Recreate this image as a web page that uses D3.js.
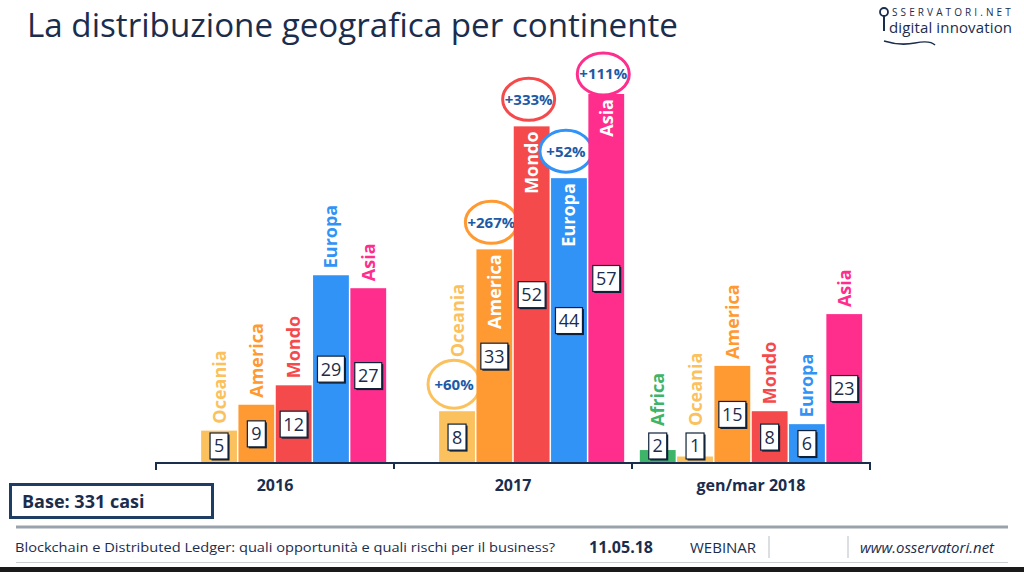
<!DOCTYPE html>
<html><head><meta charset="utf-8">
<script src="https://cdn.jsdelivr.net/npm/d3@7"></script>
<style>
html,body{margin:0;padding:0;background:#fff;}
svg{display:block;}
text{font-family:"Open Sans","Noto Sans",sans-serif;}
</style></head>
<body><svg id="c" width="1024" height="572"></svg>
<script>
// ---- data ----
const periods = ["2016", "2017", "gen/mar 2018"];
const continents = ["Africa", "Oceania", "America", "Mondo", "Europa", "Asia"];
const values2016 = [0, 5, 9, 12, 29, 27];
const values2017 = [0, 8, 33, 52, 44, 57];
const values2018 = [2, 1, 15, 8, 6, 23];
const growth2017 = ["", "+60%", "+267%", "+333%", "+52%", "+111%"];
const colors = ["#3db468", "#fbc15e", "#ff9a32", "#f54a4b", "#3193f6", "#ff2e8d"];
const titleText = "La distribuzione geografica per continente";
const baseText = "Base: 331 casi";
const footerText = "Blockchain e Distributed Ledger: quali opportunità e quali rischi per il business?";

const seriesByPeriod = [values2016, values2017, values2018];
const growthByPeriod = [null, growth2017, null];

const navy = "#1b2d4d";
const svg = d3.select("#c");

// title
svg.append("text").attr("x", 27).attr("y", 37).attr("font-size", 33)
  .attr("fill", navy).attr("textLength", 651).attr("lengthAdjust", "spacingAndGlyphs").text(titleText);

// logo
const logo = svg.append("g");
logo.append("circle").attr("cx", 884).attr("cy", 12).attr("r", 4).attr("fill", "none").attr("stroke", "#1b2d4d").attr("stroke-width", 1.8);
logo.append("line").attr("x1", 884).attr("x2", 884).attr("y1", 16).attr("y2", 31).attr("stroke", "#1b2d4d").attr("stroke-width", 2);
logo.append("text").attr("x", 892).attr("y", 16).attr("font-size", 10).attr("letter-spacing", 1.2)
  .attr("fill", "#1b2d4d").attr("font-family", "DejaVu Sans").attr("textLength", 120).text("SSERVATORI.NET");
logo.append("text").attr("x", 889).attr("y", 33).attr("font-size", 15)
  .attr("fill", "#1b2d4d").attr("font-family", "'Liberation Serif','DejaVu Serif',serif").attr("textLength", 123).text("digital innovation");
logo.append("path").attr("d", "M884,41 Q900,46 915,43 T935,45").attr("fill", "none").attr("stroke", "#1b2d4d").attr("stroke-width", 1.5);

// scales
const x0 = d3.scaleBand().domain(periods).range([156, 870]).padding(0);
const x1 = d3.scaleBand().domain(continents).range([0, x0.bandwidth()]).paddingInner(0.04).paddingOuter(0.21);
const y = d3.scaleLinear().domain([0, 57]).range([463, 94]);

const chart = svg.append("g");

periods.forEach((p, pi) => {
  const vals = seriesByPeriod[pi];
  const growth = growthByPeriod[pi];
  const g = chart.append("g").attr("transform", `translate(${x0(p)},0)`);
  continents.forEach((c, ci) => {
    const v = vals[ci];
    if (v <= 0) return;
    const bx = x1(c), bw = x1.bandwidth(), cx = bx + bw / 2;
    const top = y(v);
    g.append("rect").attr("x", bx).attr("y", top).attr("width", bw).attr("height", y(0) - top).attr("fill", colors[ci]);
    // value box
    const label = String(v);
    const boxW = label.length > 1 ? 27 : 18, boxH = 26;
    const cy = Math.min((top + y(0)) / 2, 446);
    const boxTop = cy - boxH / 2;
    g.append("rect").attr("x", cx - boxW / 2 + 1.5).attr("y", boxTop + 1.5).attr("width", boxW).attr("height", boxH).attr("fill", "#0f2138");
    g.append("rect").attr("x", cx - boxW / 2).attr("y", boxTop).attr("width", boxW).attr("height", boxH)
      .attr("fill", "#fff").attr("stroke", "#0f2138").attr("stroke-width", 1.2);
    g.append("text").attr("x", cx).attr("y", cy).attr("dy", "0.36em").attr("text-anchor", "middle")
      .attr("font-size", 18).attr("fill", navy).text(label);
    // growth ellipse
    let ellTop = null;
    if (growth && growth[ci]) {
      const ex = cx - 3, ey = Math.max(top - 27, 74);
      const rx = 26, ry = ci === 1 ? 24 : 21;
      ellTop = ey - ry;
      g.append("ellipse").attr("cx", ex).attr("cy", ey).attr("rx", rx).attr("ry", ry)
        .attr("fill", "#fff").attr("stroke", colors[ci]).attr("stroke-width", 3);
      g.append("text").attr("x", ex).attr("y", ey).attr("dy", "0.36em").attr("text-anchor", "middle")
        .attr("font-size", 15).attr("font-weight", 700).attr("fill", "#1d5aa5").text(growth[ci]);
    }
    // category label
    const inside = v > 30;
    const t = g.append("text").attr("font-size", 18).attr("font-weight", 700).attr("dy", "0.36em").text(c);
    if (inside) {
      t.attr("fill", "#fff").attr("text-anchor", "end")
        .attr("transform", `translate(${cx},${top + 5}) rotate(-90)`);
    } else {
      let start = Math.min(top, boxTop) - 7;
      if (ellTop !== null) start = ellTop - 3;
      t.attr("fill", colors[ci]).attr("text-anchor", "start")
        .attr("transform", `translate(${cx},${start}) rotate(-90)`);
    }
  });
});

// axis
const axis = svg.append("g").attr("transform", `translate(0,${y(0)})`)
  .call(d3.axisBottom(x0).tickSize(0).tickPadding(17));
axis.select(".domain").attr("stroke", navy).attr("stroke-width", 2).attr("d", "M156,7V0H870V7");
axis.selectAll(".tick text").attr("font-size", 16).attr("font-weight", 700).attr("fill", navy)
  .attr("font-family", "'Open Sans',sans-serif");
[x0("2017"), x0("gen/mar 2018")].forEach(xx => {
  axis.append("line").attr("x1", xx).attr("x2", xx).attr("y1", 0).attr("y2", 6).attr("stroke", navy).attr("stroke-width", 2);
});

// base box
svg.append("rect").attr("x", 10.5).attr("y", 484.5).attr("width", 202).attr("height", 33)
  .attr("fill", "#fff").attr("stroke", "#1e3d63").attr("stroke-width", 3);
svg.append("text").attr("x", 22).attr("y", 508).attr("font-size", 18).attr("font-weight", 700).attr("fill", navy).text(baseText);

// footer
svg.append("rect").attr("x", 16).attr("y", 525.5).attr("width", 992).attr("height", 3).attr("fill", "#9aa3ab");
svg.append("text").attr("x", 15).attr("y", 552).attr("font-size", 13).attr("fill", navy)
  .attr("textLength", 540).attr("lengthAdjust", "spacingAndGlyphs").text(footerText);
svg.append("text").attr("x", 589).attr("y", 553).attr("font-size", 16).attr("font-weight", 700).attr("fill", navy).text("11.05.18");
svg.append("text").attr("x", 690).attr("y", 553).attr("font-size", 15).attr("fill", navy).text("WEBINAR");
svg.append("line").attr("x1", 769).attr("x2", 769).attr("y1", 536).attr("y2", 558).attr("stroke", "#b9bfc5").attr("stroke-width", 1);
svg.append("line").attr("x1", 848).attr("x2", 848).attr("y1", 536).attr("y2", 558).attr("stroke", "#b9bfc5").attr("stroke-width", 1);
svg.append("text").attr("x", 860).attr("y", 553).attr("font-size", 15).attr("font-style", "italic").attr("fill", navy).text("www.osservatori.net");
svg.append("line").attr("x1", 16).attr("x2", 1008).attr("y1", 562.5).attr("y2", 562.5).attr("stroke", "#c9ced3").attr("stroke-width", 1);
svg.append("rect").attr("x", 0).attr("y", 567).attr("width", 1024).attr("height", 5).attr("fill", "#1a1a1a");
</script></body></html>
